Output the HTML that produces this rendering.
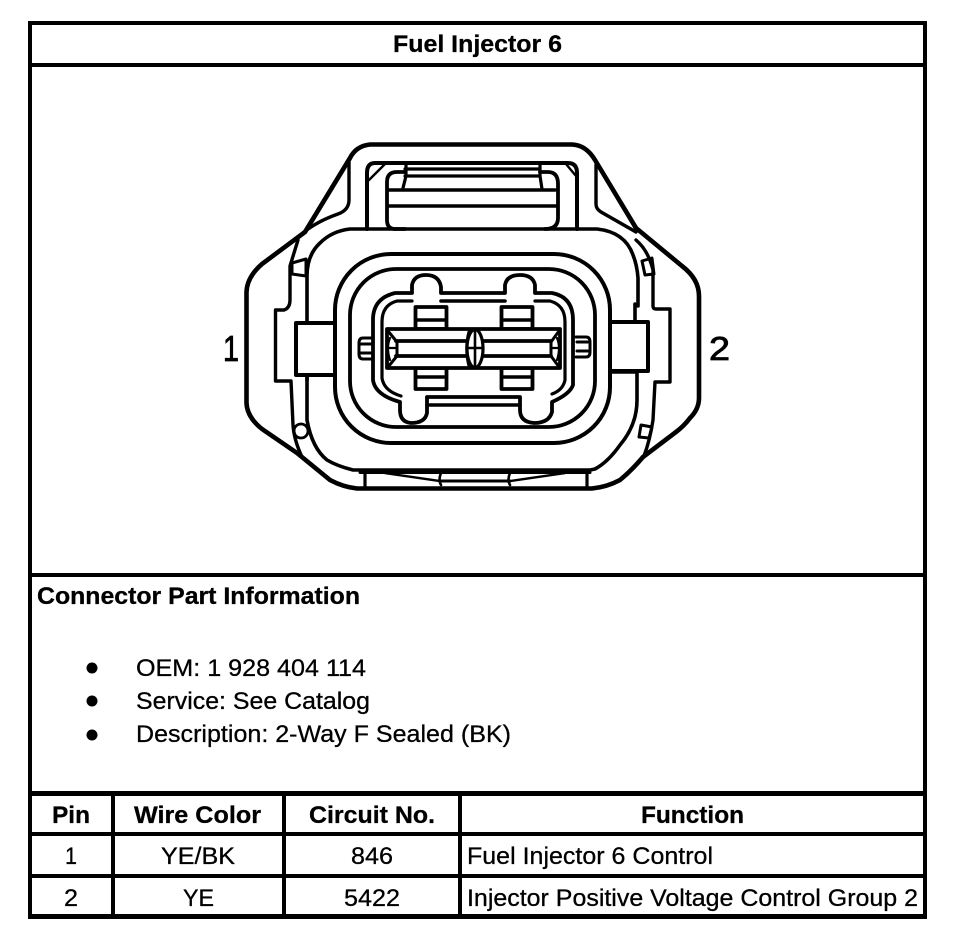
<!DOCTYPE html>
<html><head><meta charset="utf-8"><style>
html,body{margin:0;padding:0;background:#fff}
svg{display:block}
text{font-family:"Liberation Sans",Arial,sans-serif;fill:#000;stroke:#000;stroke-width:.3}
.b{font-weight:bold}
</style></head><body>
<svg width="960" height="932" viewBox="0 0 960 932" xmlns="http://www.w3.org/2000/svg">
<rect width="960" height="932" fill="#fff"/>
<g fill="#000">
<rect x="28" y="21" width="899" height="4"/>
<rect x="28" y="63" width="899" height="4"/>
<rect x="28" y="573" width="899" height="4"/>
<rect x="28" y="791" width="899" height="5"/>
<rect x="28" y="832" width="899" height="4"/>
<rect x="28" y="874" width="899" height="4"/>
<rect x="28" y="914" width="899" height="5"/>
<rect x="28" y="21" width="4" height="898"/>
<rect x="923" y="21" width="4" height="898"/>
<rect x="111" y="791" width="4" height="128"/>
<rect x="282" y="791" width="4" height="128"/>
<rect x="458" y="791" width="4" height="128"/>
</g>
<g fill="none" stroke="#000" stroke-width="3.8" stroke-linejoin="round" stroke-linecap="round">
<!-- outer shell -->
<path d="M370,144.500 H572 Q586,145 595,160 L636,228 L682,266 Q699,279 699,296 V398 Q699,409 690,418 Q684,426 676,432 L643,457 Q632,470 620,480 Q607,487 592,488.500 H357 Q343,487 330,480 L297,453 L262,429 Q247,417 246.500,403 V292 Q247,277 262,264 L305,232 L350,158 Q356,146 370,144.500 Z" stroke-width="4.600"/>
<path d="M349,162 V200 Q349,210 338,214 Q318,221 304,232" stroke-width="3.400"/>
<path d="M596,165 V204 Q596,209 601,212 L636,232" stroke-width="3.400"/>
<!-- housing -->
<path d="M350,229 H597 Q625,232 633,255 Q637,265 638,278 V306 M612,372 H637 V400 Q637,425 620,445 Q608,462 595,469 L590,470 H353 Q337,466 327,460 Q312,448 307,420 V375 M307,322 V276 Q307,255 320,243 Q332,231 350,229" stroke-width="3.600"/>
<!-- side tabs -->
<path d="M334,323 H296 V375 H334" stroke-width="4"/>
<path d="M612,322 H648 V371 H612" stroke-width="4"/>
<path d="M635,304 V322 M307,375 V380" stroke-width="3.600"/>
<path d="M298,240 L290,266 V300 Q290,308 284,310 H275.500 V381 H291 L293,425 Q294,440 302,457" stroke-width="3.400"/>
<path d="M636,240 Q648,250 653,270 V306 Q653,309 656,309 H670 V382 H655 L653,420 Q650,440 644,456" stroke-width="3.400"/>
<path d="M292,263 L306,259 V276 L292,274 Z" stroke-width="3"/>
<path d="M642,261 L652,258 L654,274 L645,275 Z" stroke-width="3"/>
<circle cx="301" cy="431" r="7" stroke-width="2.800"/>
<path d="M641,425 L652,427 L649,438 L639,437 Z" stroke-width="3"/>
<!-- bottom details -->
<path d="M365,472 V487 M587,472 V487" stroke-width="3.200"/>
<path d="M360,472.500 H590" stroke-width="3"/>
<path d="M385,473 L440,481 M510,481 L565,473" stroke-width="2.400"/>
<path d="M440,481 H510" stroke-width="3"/>
<path d="M441,473 Q438,480 441,485 M510,473 Q507,480 510,485" stroke-width="2.600"/>
<!-- tongue -->
<path d="M367,229 V173 Q367,163 375,163 H568 Q577,163 577,173 V229" stroke-width="4"/>
<path d="M369,180 L385,164 M566,164 L576,176" stroke-width="2.400"/>
<path d="M405,229 H395 Q387,229 387,220 V182 Q387,172 397,172 H405 M540,172 H548 Q558,172 558,184 V218 Q558,229 545,229" stroke-width="3.800"/>
<path d="M388,190 H555 M388,206 H556" stroke-width="3.600"/>
<path d="M408,163 H540 M405,169 H540 M405,176 H540" stroke-width="3.200"/>
<path d="M406,164 V176 L403,188 M540,163 V176 L542,189" stroke-width="3.200"/>
<!-- rounded rings -->
<rect x="335" y="254" width="275" height="189" rx="56" ry="56" stroke-width="4"/>
<rect x="350" y="269" width="245" height="158" rx="46" ry="46" stroke-width="3.800"/>
<!-- lobed socket -->
<path d="M412,293 V285 Q414,275 426,275 Q439,275 441,287 V293 H505 V285 Q507,275 520,275 Q533,275 535,285 V293 H552 Q573,297 573,320 V385 Q570,394 552,402 V412 Q549,423 534,423 Q520,422 520,410 V397 H427 V413 Q425,423 411,423 Q400,422 400,410 V402 Q375,395 373,380 V318 Q374,298 395,293 Z" stroke-width="3.800"/>
<path d="M412,301 H397 Q382,305 382,322 V378 Q384,391 401,396" stroke-width="3.200"/>
<path d="M441,301 H505" stroke-width="3.600"/>
<path d="M535,301 H550 Q565,305 565,322 V380 Q563,390 552,394" stroke-width="3.200"/>
<path d="M427,405 H520" stroke-width="3.600"/>
<!-- pin windows -->
<rect x="415.500" y="307" width="31" height="22" stroke-width="3.800"/>
<rect x="501.500" y="307" width="31" height="22" stroke-width="3.800"/>
<rect x="415.500" y="368" width="31" height="21" stroke-width="3.800"/>
<rect x="501.500" y="368" width="31" height="21" stroke-width="3.800"/>
<path d="M416,320 H446 M502,320 H532 M416,377 H446 M502,377 H532" stroke-width="3.600"/>
<!-- terminal -->
<rect x="387" y="329" width="173" height="39" fill="#fff" stroke-width="3.800"/>
<path d="M396,341 H468 M396,356 H468 M482,341 H551 M482,356 H551" stroke-width="3.800"/>
<path d="M388,331 L397,342 V356 L388,367 M559,331 L551,342 V356 L559,367" stroke-width="3"/>
<path d="M390,338 Q386,348 390,360 M557,338 Q561,348 557,360 M388,348 H396 M552,348 H559" stroke-width="2.200"/>
<ellipse cx="475" cy="348.500" rx="8" ry="19" fill="#fff" stroke-width="3.200"/>
<path d="M469,331 Q464,348 469,367 M475,330 V367 M467,348 H483" stroke-width="2.600"/>
<!-- end pins -->
<path d="M373,338 H363 Q359,338 359,343 V354 Q359,359 363,359 H373 M361,344 H373 M361,353 H373" stroke-width="3"/>
<path d="M576,337 H586 Q590,337 590,342 V352 Q590,357 586,357 H576 M577,342 H588 M577,351 H588" stroke-width="3"/>
</g>
<text x="223" y="361" font-size="36" textLength="16" lengthAdjust="spacingAndGlyphs" style="stroke-width:.8">1</text>
<text x="709" y="360" font-size="33" textLength="21" lengthAdjust="spacingAndGlyphs" style="stroke-width:.8">2</text>
<g font-size="24.500">
<text class="b" x="393" y="52" textLength="169" lengthAdjust="spacingAndGlyphs">Fuel Injector 6</text>
<text class="b" x="37" y="604" textLength="323" lengthAdjust="spacingAndGlyphs">Connector Part Information</text>
<text x="136" y="676" textLength="230" lengthAdjust="spacingAndGlyphs">OEM: 1 928 404 114</text>
<text x="136" y="709" textLength="234" lengthAdjust="spacingAndGlyphs">Service: See Catalog</text>
<text x="136" y="742" textLength="375" lengthAdjust="spacingAndGlyphs">Description: 2-Way F Sealed (BK)</text>
<text class="b" x="52" y="823" textLength="38" lengthAdjust="spacingAndGlyphs">Pin</text>
<text class="b" x="134" y="823" textLength="127" lengthAdjust="spacingAndGlyphs">Wire Color</text>
<text class="b" x="309" y="823" textLength="126" lengthAdjust="spacingAndGlyphs">Circuit No.</text>
<text class="b" x="641" y="823" textLength="103" lengthAdjust="spacingAndGlyphs">Function</text>
<text x="65" y="864" textLength="12" lengthAdjust="spacingAndGlyphs">1</text>
<text x="161" y="864" textLength="74" lengthAdjust="spacingAndGlyphs">YE/BK</text>
<text x="351" y="864" textLength="42" lengthAdjust="spacingAndGlyphs">846</text>
<text x="467" y="864" textLength="246" lengthAdjust="spacingAndGlyphs">Fuel Injector 6 Control</text>
<text x="64" y="906" textLength="14" lengthAdjust="spacingAndGlyphs">2</text>
<text x="183" y="906" textLength="31" lengthAdjust="spacingAndGlyphs">YE</text>
<text x="344" y="906" textLength="56" lengthAdjust="spacingAndGlyphs">5422</text>
<text x="467" y="906" textLength="451" lengthAdjust="spacingAndGlyphs">Injector Positive Voltage Control Group 2</text>
</g>
<circle cx="92" cy="668" r="5.500" fill="#000"/>
<circle cx="92" cy="701" r="5.500" fill="#000"/>
<circle cx="92" cy="735" r="5.500" fill="#000"/>
</svg>
</body></html>
